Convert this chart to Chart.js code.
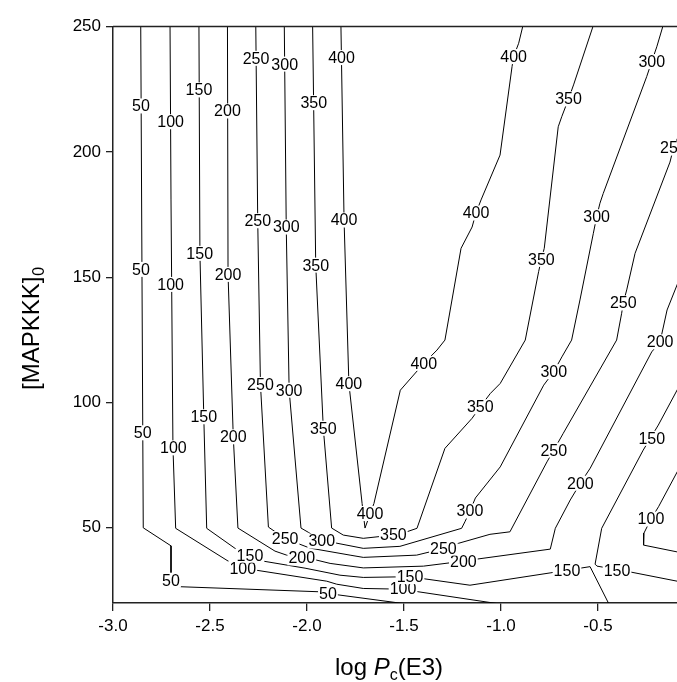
<!DOCTYPE html>
<html>
<head>
<meta charset="utf-8">
<script src="https://cdn.jsdelivr.net/npm/chart.js@4.4.1/dist/chart.umd.min.js"></script>
<style>
html,body{margin:0;padding:0;background:#fff;}
#wrap{width:677px;height:682px;position:relative;}
</style>
</head>
<body>
<div id="wrap"><canvas id="myChart"></canvas></div>
<script>
const levels = [50, 100, 150, 200, 250, 300, 350, 400];
const xTicks = [-3.0, -2.5, -2.0, -1.5, -1.0, -0.5];
const yTicks = [50, 100, 150, 200, 250];

// contour lines, [log Pc, MAPKKK0]
const c50 = [[-2.857,250],[-2.844,50.0],[-2.701,42.8],[-2.701,30.7],[-2.675,26.7],[-2.655,26.5],[-1.943,24.5],[-1.845,23.3],[-1.505,19.8]];
const c50Lab = [[-2.856,218.3],[-2.856,153.1],[-2.847,87.9],[-2.701,29.1],[-1.892,23.9]];

const c100 = [[-2.706,250],[-2.701,180.8],[-2.691,82.2],[-2.677,49.8],[-2.406,36.7],[-2.335,33.9],[-2.263,33.1],[-1.898,28.7],[-1.847,27.5],[-1.710,25.8],[-1.505,25.5],[-1.428,24.5],[-1.022,19.8]];
const c100Lab = [[-2.703,212.0],[-2.703,147.1],[-2.689,81.9],[-2.331,33.8],[-1.505,25.8]];
const c100b = [[-0.026,81.8],[-0.188,58.4],[-0.227,53.5],[-0.263,47.9],[-0.265,43.1],[-0.093,40.4],[-0.026,39.4]];
const c100bLab = [[-0.227,53.5]];

const c150 = [[-2.557,250],[-2.552,159.6],[-2.532,94.3],[-2.517,49.8],[-2.371,41.8],[-2.294,39.1],[-2.225,36.7],[-2.010,33.9],[-1.830,31.1],[-1.710,30.2],[-1.546,30.4],[-1.409,29.8],[-1.160,27.1],[-0.747,32.0],[-0.541,34.5],[-0.445,19.8]];
const c150Lab = [[-2.557,224.7],[-2.553,159.5],[-2.532,94.3],[-2.294,39.1],[-1.469,30.5],[-0.660,33.1]];
const c150b = [[-0.026,114.5],[-0.189,91.0],[-0.267,81.0],[-0.481,49.8],[-0.515,35.5],[-0.505,34.7],[-0.474,34.3],[-0.402,33.1],[-0.335,32.4],[-0.026,27.7]];
const c150bLab = [[-0.223,85.7],[-0.402,33.1]];

const c200 = [[-2.410,250],[-2.407,151.2],[-2.380,86.3],[-2.356,49.9],[-2.165,40.7],[-2.105,39.1],[-2.027,38.0],[-1.950,37.1],[-1.881,35.8],[-1.710,34.0],[-1.400,34.7],[-1.194,36.7],[-1.125,37.5],[-0.746,41.5],[-0.720,49.8],[-0.643,61.1],[-0.591,67.8],[-0.540,73.8],[-0.223,120.2],[-0.180,124.2],[-0.144,136.9],[-0.026,159.8]];
const c200Lab = [[-2.410,216.3],[-2.407,151.1],[-2.380,86.3],[-2.027,38.0],[-1.194,36.7],[-0.591,67.8],[-0.180,124.2]];

const c250 = [[-2.264,250],[-2.254,172.5],[-2.240,107.2],[-2.199,50.3],[-2.113,45.7],[-1.985,41.9],[-1.778,39.1],[-1.710,38.2],[-1.435,39.1],[-1.366,40.4],[-1.297,41.9],[-1.220,43.8],[-1.057,47.4],[-0.954,48.4],[-0.763,76.3],[-0.728,81.0],[-0.679,87.7],[-0.404,124.9],[-0.378,135.6],[-0.370,139.7],[-0.352,144.9],[-0.309,159.5],[-0.129,195.9],[-0.111,201.5],[-0.077,207.9],[-0.026,216.7]];
const c250Lab = [[-2.263,237.3],[-2.254,172.5],[-2.240,107.2],[-2.113,45.7],[-1.297,41.9],[-0.728,81.0],[-0.370,139.7],[-0.111,201.5]];

const c300 = [[-2.117,250],[-2.107,170.0],[-2.092,104.9],[-2.031,49.9],[-1.993,48.2],[-1.924,44.7],[-1.856,44.0],[-1.710,41.8],[-1.521,42.6],[-1.203,49.8],[-1.186,52.4],[-1.160,56.7],[-1.132,61.9],[-1.004,74.3],[-0.780,106.9],[-0.728,112.3],[-0.686,118.2],[-0.636,124.9],[-0.593,140.9],[-0.524,167.5],[-0.507,174.1],[-0.490,179.5],[-0.473,183.4],[-0.249,230.0],[-0.223,236.0],[-0.197,241.9],[-0.166,250]];
const c300Lab = [[-2.115,235.0],[-2.107,170.0],[-2.092,104.9],[-1.924,44.7],[-1.160,56.7],[-0.728,112.3],[-0.507,174.1],[-0.223,236.0]];

const c350 = [[-1.971,250],[-1.955,154.8],[-1.916,89.7],[-1.873,49.9],[-1.813,47.1],[-1.710,45.8],[-1.555,47.1],[-1.486,48.4],[-1.433,49.8],[-1.289,81.7],[-1.149,93.7],[-1.107,98.3],[-1.055,103.6],[-1.004,107.6],[-0.875,124.9],[-0.806,152.2],[-0.792,157.1],[-0.777,161.5],[-0.705,210.0],[-0.687,214.0],[-0.652,221.1],[-0.626,226.7],[-0.526,250]];
const c350Lab = [[-1.965,219.6],[-1.955,154.8],[-1.916,89.7],[-1.555,47.1],[-1.107,98.3],[-0.792,157.1],[-0.652,221.1]];

const c400 = [[-1.825,250],[-1.809,172.8],[-1.784,107.5],[-1.716,59.7],[-1.701,49.9],[-1.655,59.7],[-1.519,104.9],[-1.398,115.6],[-1.330,120.9],[-1.289,124.9],[-1.206,161.5],[-1.149,170.0],[-1.129,175.6],[-1.103,180.8],[-1.005,198.7],[-0.943,234.0],[-0.935,238.0],[-0.909,243.3],[-0.888,250]];
const c400Lab = [[-1.822,237.6],[-1.809,172.8],[-1.784,107.5],[-1.675,55.7],[-1.398,115.6],[-1.129,175.6],[-0.935,238.0]];

const contours = [
  {level: levels[0], pts: c50, labels: c50Lab},
  {level: levels[1], pts: c100, labels: c100Lab},
  {level: levels[1], pts: c100b, labels: c100bLab},
  {level: levels[2], pts: c150, labels: c150Lab},
  {level: levels[2], pts: c150b, labels: c150bLab},
  {level: levels[3], pts: c200, labels: c200Lab},
  {level: levels[4], pts: c250, labels: c250Lab},
  {level: levels[5], pts: c300, labels: c300Lab},
  {level: levels[6], pts: c350, labels: c350Lab},
  {level: levels[7], pts: c400, labels: c400Lab}
];

const FONT = '"Liberation Sans", Arial, sans-serif';

// white-boxed level numbers sitting on the lines
const contourLabels = {
  id: 'contourLabels',
  afterDatasetsDraw(chart) {
    const {ctx, scales: {x, y}} = chart;
    ctx.save();
    ctx.font = '16px ' + FONT;
    ctx.textAlign = 'center';
    ctx.textBaseline = 'middle';
    contours.forEach(c => {
      c.labels.forEach(p => {
        const px = x.getPixelForValue(p[0]);
        const py = y.getPixelForValue(p[1]);
        const t = String(c.level);
        const w = ctx.measureText(t).width;
        ctx.fillStyle = '#fff';
        ctx.fillRect(px - w / 2 - 1, py - 7.5, w + 2, 15);
        ctx.fillStyle = '#000';
        ctx.fillText(t, px, py + 1);
      });
    });
    ctx.restore();
  }
};

// top frame line and the two axis titles (with subscripts)
const frameAndTitles = {
  id: 'frameAndTitles',
  afterDraw(chart) {
    const {ctx, chartArea} = chart;
    ctx.save();
    ctx.strokeStyle = '#222';
    ctx.lineWidth = 1.5;
    ctx.beginPath();
    ctx.moveTo(chartArea.left, chartArea.top);
    ctx.lineTo(chartArea.right, chartArea.top);
    ctx.stroke();

    ctx.fillStyle = '#000';
    ctx.textAlign = 'left';
    ctx.textBaseline = 'alphabetic';
    // x title: log Pc(E3)
    let xx = 335;
    const by = 675;
    ctx.font = '24px ' + FONT;
    ctx.fillText('log ', xx, by);
    xx += ctx.measureText('log ').width;
    ctx.font = 'italic 24px ' + FONT;
    ctx.fillText('P', xx, by);
    xx += ctx.measureText('P').width;
    ctx.font = '16px ' + FONT;
    ctx.fillText('c', xx, by + 5);
    xx += ctx.measureText('c').width;
    ctx.font = '24px ' + FONT;
    ctx.fillText('(E3)', xx, by);

    // y title: [MAPKKK]0
    ctx.translate(39, 390);
    ctx.rotate(-Math.PI / 2);
    ctx.font = '24px ' + FONT;
    ctx.fillText('[MAPKKK]', 0, 0);
    const w = ctx.measureText('[MAPKKK]').width;
    ctx.font = '16px ' + FONT;
    ctx.fillText('0', w + 1, 5);
    ctx.restore();
  }
};

const ctx = document.getElementById('myChart').getContext('2d');

const myChart = new Chart(ctx, {
  type: 'scatter',
  data: {
    datasets: contours.map(c => ({
      label: String(c.level),
      data: c.pts.map(p => ({x: p[0], y: p[1]})),
      showLine: true,
      borderColor: '#000',
      borderWidth: 1,
      pointRadius: 0,
      fill: false,
      tension: 0
    }))
  },
  options: {
    responsive: true,
    maintainAspectRatio: false,
    animation: false,
    layout: {padding: {top: 26.5, left: 0, right: 0, bottom: 0}},
    plugins: {
      legend: {display: false},
      tooltip: {enabled: false}
    },
    scales: {
      x: {
        type: 'linear',
        min: -3,
        max: -0.0928,
        afterBuildTicks: s => { s.ticks = xTicks.map(v => ({value: v})); },
        afterFit: s => { s.height = 79; },
        ticks: {
          callback: v => Number(v).toFixed(1),
          color: '#000',
          font: {size: 17, family: FONT},
          padding: 5,
          maxRotation: 0,
          autoSkip: false
        },
        grid: {drawOnChartArea: false, tickLength: 8, color: '#222', lineWidth: 1.3},
        border: {color: '#222', width: 1.5}
      },
      y: {
        type: 'linear',
        min: 20,
        max: 250,
        afterBuildTicks: s => { s.ticks = yTicks.map(v => ({value: v})); },
        afterFit: s => { s.width = 113; },
        ticks: {
          color: '#000',
          font: {size: 17, family: FONT},
          padding: 5
        },
        grid: {drawOnChartArea: false, tickLength: 7, color: '#222', lineWidth: 1.3},
        border: {color: '#222', width: 1.5}
      }
    }
  },
  plugins: [contourLabels, frameAndTitles]
});
</script>
</body>
</html>
